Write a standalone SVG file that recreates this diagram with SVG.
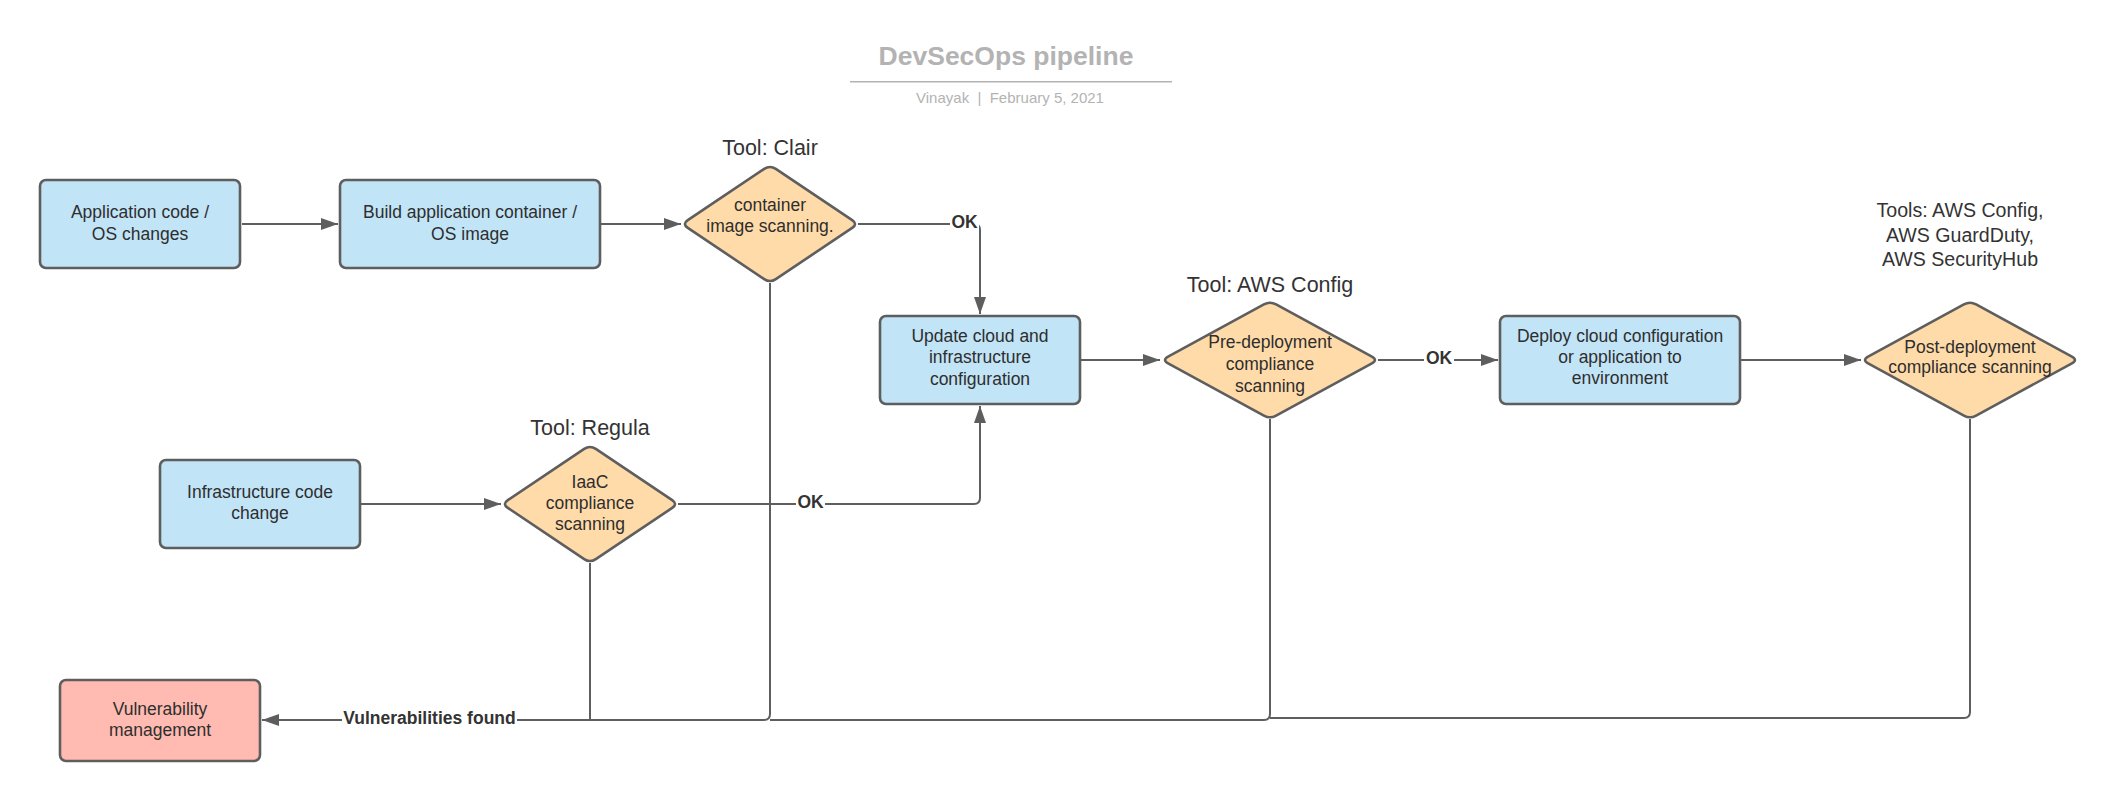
<svg xmlns="http://www.w3.org/2000/svg" width="2120" height="800" viewBox="0 0 2120 800">
<style>
  .box { stroke: #5e5e5e; stroke-width: 2.6; }
  .proc { fill: #c1e4f7; }
  .dec { fill: #ffdba9; stroke: #5e5e5e; stroke-width: 2.6; stroke-linejoin: round; }
  .vuln { fill: #ffbbb1; }
  .t { font-family: "Liberation Sans", Arial, sans-serif; font-size: 17.5px; fill: #2e2e2e; text-anchor: middle; }
  .tool { font-family: "Liberation Sans", Arial, sans-serif; font-size: 21.5px; fill: #333333; text-anchor: middle; }
  .tools { font-family: "Liberation Sans", Arial, sans-serif; font-size: 19.6px; fill: #333333; text-anchor: middle; }
  .lbl { font-family: "Liberation Sans", Arial, sans-serif; font-size: 17.5px; font-weight: bold; fill: #333333; text-anchor: middle; }
  .conn { fill: none; stroke: #5e5e5e; stroke-width: 2; }
  .bg { fill: #ffffff; }
</style>
<defs>
  <marker id="arr" markerUnits="userSpaceOnUse" markerWidth="17" markerHeight="12" refX="17" refY="6" orient="auto">
    <path d="M0,0 L17,6 L0,12 z" fill="#5e5e5e"/>
  </marker>
  <path id="dsmall" d="M-82.2,-3.9 L-5.8,-55.1 Q0,-59 5.8,-55.1 L82.2,-3.9 Q88,0 82.2,3.9 L5.8,55.1 Q0,59 -5.8,55.1 L-82.2,3.9 Q-88,0 -82.2,-3.9 Z"/>
  <path id="dlarge" d="M-101.9,-3.4 L-6.1,-55.6 Q0,-59 6.1,-55.6 L101.9,-3.4 Q108,0 101.9,3.4 L6.1,55.6 Q0,59 -6.1,55.6 L-101.9,3.4 Q-108,0 -101.9,-3.4 Z"/>
</defs>
<rect x="0" y="0" width="2120" height="800" fill="#ffffff"/>

<g id="title">
  <text x="1006" y="65" font-family="Liberation Sans, Arial, sans-serif" font-size="26.5" font-weight="bold" fill="#b3b3b3" text-anchor="middle">DevSecOps pipeline</text>
  <line x1="850" y1="81.7" x2="1172" y2="81.7" stroke="#b3b3b3" stroke-width="1.6"/>
  <text x="1010" y="102.5" font-family="Liberation Sans, Arial, sans-serif" font-size="15" fill="#b3b3b3" text-anchor="middle" xml:space="preserve">Vinayak  |  February 5, 2021</text>
</g>

<g id="connectors">
  <path class="conn" d="M242 224 L338 224" marker-end="url(#arr)"/>
  <path class="conn" d="M601 224 L681 224" marker-end="url(#arr)"/>
  <path class="conn" d="M858 224 L974 224 Q980 224 980 230 L980 314" marker-end="url(#arr)"/>
  <path class="conn" d="M361 504 L501 504" marker-end="url(#arr)"/>
  <path class="conn" d="M678 504 L974 504 Q980 504 980 498 L980 406" marker-end="url(#arr)"/>
  <path class="conn" d="M1081 360 L1160 360" marker-end="url(#arr)"/>
  <path class="conn" d="M1378 360 L1498 360" marker-end="url(#arr)"/>
  <path class="conn" d="M1741 360 L1861 360" marker-end="url(#arr)"/>
  <path class="conn" d="M1970 419 L1970 712 Q1970 718 1964 718 L1270 718"/>
  <path class="conn" d="M1270 419 L1270 714 Q1270 720 1264 720 L770 720"/>
  <path class="conn" d="M590 563 L590 720"/>
  <path class="conn" d="M770 283 L770 714 Q770 720 764 720 L262 720" marker-end="url(#arr)"/>
  <rect class="bg" x="950" y="212" width="29" height="20"/>
  <text class="lbl" x="964.5" y="227.5">OK</text>
  <rect class="bg" x="796" y="492" width="29" height="20"/>
  <text class="lbl" x="810.5" y="507.5">OK</text>
  <rect class="bg" x="1424" y="349" width="30" height="20"/>
  <text class="lbl" x="1439" y="364">OK</text>
  <rect class="bg" x="342" y="708" width="175" height="22"/>
  <text class="lbl" x="429.5" y="723.5">Vulnerabilities found</text>
</g>

<g id="app-code">
  <rect class="box proc" x="40" y="180" width="200" height="88" rx="6"/>
  <text class="t" x="140" y="218">Application code /</text>
  <text class="t" x="140" y="239.5">OS changes</text>
</g>

<g id="build-image">
  <rect class="box proc" x="340" y="180" width="260" height="88" rx="6"/>
  <text class="t" x="470" y="218">Build application container /</text>
  <text class="t" x="470" y="239.5">OS image</text>
</g>

<g id="clair-scan">
  <text class="tool" x="770" y="155">Tool: Clair</text>
  <use href="#dsmall" class="dec" x="770" y="224"/>
  <text class="t" x="770" y="211">container</text>
  <text class="t" x="770" y="232">image scanning.</text>
</g>

<g id="infra-code">
  <rect class="box proc" x="160" y="460" width="200" height="88" rx="6"/>
  <text class="t" x="260" y="497.5">Infrastructure code</text>
  <text class="t" x="260" y="518.5">change</text>
</g>

<g id="iaac-scan">
  <text class="tool" x="590" y="435">Tool: Regula</text>
  <use href="#dsmall" class="dec" x="590" y="504"/>
  <text class="t" x="590" y="487.5">IaaC</text>
  <text class="t" x="590" y="508.5">compliance</text>
  <text class="t" x="590" y="529.5">scanning</text>
</g>

<g id="update-config">
  <rect class="box proc" x="880" y="316" width="200" height="88" rx="6"/>
  <text class="t" x="980" y="341.7">Update cloud and</text>
  <text class="t" x="980" y="363.3">infrastructure</text>
  <text class="t" x="980" y="385">configuration</text>
</g>

<g id="pre-deploy-scan">
  <text class="tool" x="1270" y="292">Tool: AWS Config</text>
  <use href="#dlarge" class="dec" x="1270" y="360"/>
  <text class="t" x="1270" y="348.3">Pre-deployment</text>
  <text class="t" x="1270" y="370">compliance</text>
  <text class="t" x="1270" y="391.5">scanning</text>
</g>

<g id="deploy">
  <rect class="box proc" x="1500" y="316" width="240" height="88" rx="6"/>
  <text class="t" x="1620" y="341.7">Deploy cloud configuration</text>
  <text class="t" x="1620" y="362.7">or application to</text>
  <text class="t" x="1620" y="383.5">environment</text>
</g>

<g id="post-deploy-scan">
  <text class="tools" x="1960" y="217.3">Tools: AWS Config,</text>
  <text class="tools" x="1960" y="241.7">AWS GuardDuty,</text>
  <text class="tools" x="1960" y="266">AWS SecurityHub</text>
  <use href="#dlarge" class="dec" x="1970" y="360"/>
  <text class="t" x="1970" y="352.7">Post-deployment</text>
  <text class="t" x="1970" y="373.3">compliance scanning</text>
</g>

<g id="vuln-mgmt">
  <rect class="box vuln" x="60" y="680" width="200" height="81" rx="6"/>
  <text class="t" x="160" y="714.5">Vulnerability</text>
  <text class="t" x="160" y="735.5">management</text>
</g>
</svg>
